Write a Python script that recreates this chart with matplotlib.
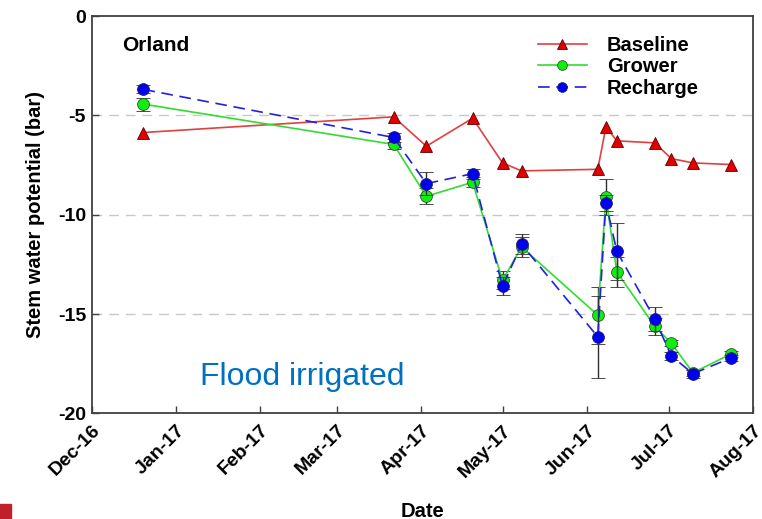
import numpy as np
import matplotlib
matplotlib.use("Agg")
import matplotlib.pyplot as plt
import matplotlib.dates as mdates
from matplotlib.patches import Rectangle
from matplotlib.lines import Line2D
from datetime import datetime

plt.rcParams['font.family'] = ['Liberation Sans', 'DejaVu Sans']
plt.rcParams['font.weight'] = 'bold'

# sampling dates (same for all three treatments)
dates = ['2016-12-20', '2017-03-22', '2017-04-03', '2017-04-20', '2017-05-01',
         '2017-05-08', '2017-06-05', '2017-06-08', '2017-06-12', '2017-06-26',
         '2017-07-02', '2017-07-10', '2017-07-24']

baseline = [-5.86, -5.07, -6.55, -5.14, -7.39, -7.79, -7.71, -5.58, -6.28,
            -6.38, -7.17, -7.39, -7.47]
grower = [-4.43, -6.46, -9.07, -8.36, -13.3, -11.62, -15.05, -9.10, -12.88,
          -15.62, -16.46, -17.95, -17.0]
grower_err = [0.33, 0.25, 0.4, 0.25, 0.45, 0.5, 1.43, 0.92, 0.76, 0.45,
              0.15, 0.15, 0.15]
recharge = [-3.69, -6.11, -8.43, -7.93, -13.59, -11.49, -16.14, -9.39, -11.84,
            -15.25, -17.1, -18.0, -17.2]
recharge_err = [0.2, 0.25, 0.58, 0.25, 0.45, 0.5, 2.07, 0.4, 1.45, 0.6,
                0.2, 0.2, 0.15]

yticks = [0, -5, -10, -15, -20]

x = [datetime.strptime(d, '%Y-%m-%d') for d in dates]

fig = plt.figure(figsize=(7.62, 5.19), dpi=100)
ax = fig.add_axes([0.1203, 0.2033, 0.8677, 0.7657])

for yv in [-5, -10, -15]:
    ax.axhline(yv, color='#c8c8c8', lw=1, dashes=(7, 5), zorder=0)

base_style = dict(color='#e04040', lw=1.2, marker='^', ms=8,
                  mfc='#e00000', mec='#600000', mew=0.6)
grow_style = dict(color='#30dd30', lw=1.2, marker='o', ms=8.5,
                  mfc='#10ee10', mec='#305030', mew=0.6)
rech_style = dict(color='#2020e0', lw=1.2, dashes=(7, 4), marker='o', ms=8.5,
                  mfc='#0000f0', mec='#202060', mew=0.6)

ax.plot(x, baseline, zorder=3, **base_style)
ax.errorbar(x, grower, yerr=grower_err, ecolor='#303030', elinewidth=1,
            capsize=5, capthick=1, zorder=4, **grow_style)
ax.errorbar(x, recharge, yerr=recharge_err, ecolor='#303030', elinewidth=1,
            capsize=5, capthick=1, zorder=5, **rech_style)

ax.set_xlim(datetime(2016, 12, 1), datetime(2017, 8, 1))
ax.set_ylim(-20, 0)
ax.set_yticks(yticks)
ax.set_yticklabels([str(v) for v in yticks])
ax.xaxis.set_major_locator(mdates.MonthLocator())
ax.xaxis.set_major_formatter(mdates.DateFormatter('%b-%y'))
ax.tick_params(direction='in', length=5, width=1, color='#404040',
               labelsize=14, pad=4)
ax.tick_params(axis='x', pad=6)
plt.setp(ax.get_xticklabels(), rotation=45, ha='right', rotation_mode='anchor')
for s in ax.spines.values():
    s.set_color('#404040')
    s.set_linewidth(1.3)

ax.set_ylabel('Stem water potential (bar)', fontsize=14.5, fontweight='bold',
              labelpad=9)
ax.set_xlabel('Date', fontsize=14.5, fontweight='bold', labelpad=15)

ax.text(0.046, 0.927, 'Orland', transform=ax.transAxes, fontsize=15,
        fontweight='bold', va='center')
ax.text(0.164, 0.072, 'Flood irrigated', transform=ax.transAxes, fontsize=23,
        fontweight='normal', color='#0070c0', va='baseline')

handles = []
for st, name in [(base_style, 'Baseline'), (grow_style, 'Grower'),
                 (rech_style, 'Recharge')]:
    st2 = dict(st)
    st2['ms'] = 7
    handles.append(Line2D([], [], label=name, **st2))
ax.legend(handles=handles, loc='upper left', bbox_to_anchor=(0.648, 0.996),
          frameon=False, fontsize=14.5, handlelength=2.4, labelspacing=0.12,
          handletextpad=1.0)

fig.patches.append(Rectangle((0, 0), 11 / 762, 15 / 519, transform=fig.transFigure,
                             color='#c0202a', zorder=10))

fig.savefig('out.png', dpi=100)
